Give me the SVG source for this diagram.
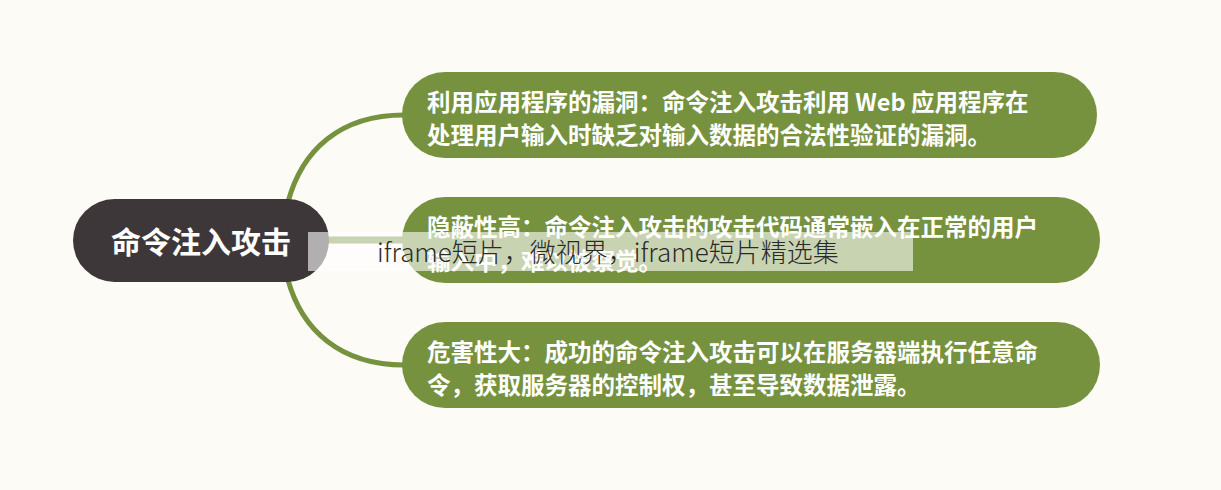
<svg xmlns="http://www.w3.org/2000/svg" width="1221" height="490" viewBox="0 0 1221 490">
<style>
.bg{fill:#fcfbf5}
.leaf{fill:#76923f}
.root{fill:#3e3739}
.conn{fill:none;stroke:#76923f;stroke-linecap:round}
.t{font-family:"Noto Sans CJK SC","Noto Sans",sans-serif;font-weight:700;fill:#ffffff}
.lt{font-size:23.5px}
.wm{font-family:"Noto Sans CJK SC","Noto Sans",sans-serif;font-weight:300;font-size:26px;fill:#2a2a2a}
</style>
<rect class="bg" x="0" y="0" width="1221" height="490"/>
<g id="connectors">
<path class="conn" stroke-width="5" d="M288,202 C302,150 340,115 404,115"/>
<path class="conn" stroke-width="5" d="M288,280 C302,330 340,365 404,365"/>
<path class="conn" stroke-width="7" d="M320,240 L404,240"/>
</g>
<g id="root">
<rect class="root" x="73" y="199" width="256" height="83" rx="41.5"/>
<text class="t" x="201" y="253" font-size="30" text-anchor="middle">命令注入攻击</text>
</g>
<g id="node1">
<rect class="leaf" x="402" y="72" width="695" height="86" rx="43"/>
<text class="t lt" x="427" y="111">利用应用程序的漏洞：命令注入攻击利用 Web 应用程序在</text>
<text class="t lt" x="427" y="144">处理用户输入时缺乏对输入数据的合法性验证的漏洞。</text>
</g>
<g id="node2">
<rect class="leaf" x="402" y="197" width="698" height="86" rx="43"/>
<text class="t lt" x="427" y="236">隐蔽性高：命令注入攻击的攻击代码通常嵌入在正常的用户</text>
<text class="t lt" x="427" y="270">输入中，难以被察觉。</text>
</g>
<g id="node3">
<rect class="leaf" x="402" y="322" width="698" height="86" rx="43"/>
<text class="t lt" x="427" y="361">危害性大：成功的命令注入攻击可以在服务器端执行任意命</text>
<text class="t lt" x="427" y="394">令，获取服务器的控制权，甚至导致数据泄露。</text>
</g>
<g id="watermark">
<rect x="308" y="232" width="605" height="39" fill="#ffffff" fill-opacity="0.6"/>
<text class="wm" x="377" y="262">iframe短片，微视界，iframe短片精选集</text>
</g>
</svg>
